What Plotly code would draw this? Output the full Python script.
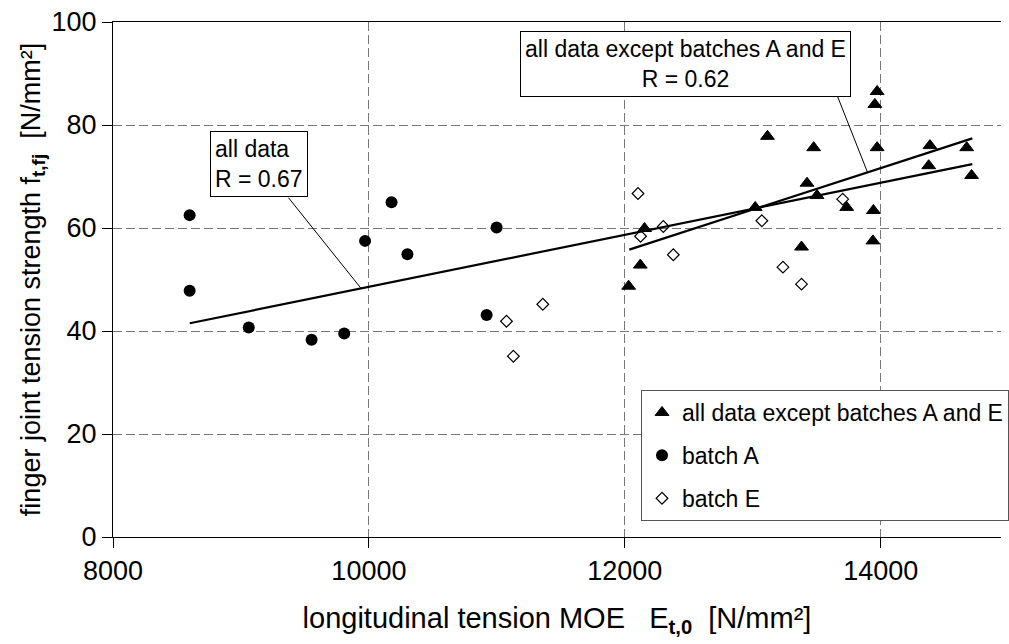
import numpy as np
import plotly.graph_objects as go

FONT = "Liberation Sans, Arial, sans-serif"

# ---- data ----
other_x = [12030, 12121, 12154, 13019, 13115, 13381, 13424, 13476, 13502, 13734,
           13939, 13943, 13954, 13972, 13972, 14375, 14385, 14672, 14710]
other_y = [48.7, 52.8, 59.9, 64.0, 77.8, 56.3, 68.7, 75.6, 66.3, 64.0,
           57.5, 63.4, 84.0, 86.5, 75.6, 72.1, 76.0, 75.6, 70.2]

batchA_x = [8599, 8599, 9061, 9552, 9807, 9970, 10177, 10301, 10920, 10998]
batchA_y = [62.5, 47.8, 40.7, 38.3, 39.5, 57.5, 65.0, 54.9, 43.1, 60.1]

batchE_x = [11075, 11129, 11359, 12103, 12123, 12301, 12379, 13071, 13236, 13381, 13703]
batchE_y = [41.9, 35.1, 45.2, 66.7, 58.4, 60.3, 54.8, 61.4, 52.4, 49.1, 65.6]

# trend lines (end points)
trend_all_x = [8600, 14716]
trend_all_y = [41.5, 72.4]
trend_other_x = [12035, 14716]
trend_other_y = [55.8, 77.4]

x_ticks = [8000, 10000, 12000, 14000]
y_ticks = [0, 20, 40, 60, 80, 100]


def on_line(xs, ys, xv):
    return ys[0] + (ys[1] - ys[0]) * (xv - xs[0]) / (xs[1] - xs[0])


fig = go.Figure()

fig.add_trace(go.Scatter(x=trend_all_x, y=trend_all_y, mode="lines",
                         line=dict(color="black", width=2.2), showlegend=False,
                         hoverinfo="skip"))
fig.add_trace(go.Scatter(x=trend_other_x, y=trend_other_y, mode="lines",
                         line=dict(color="black", width=2.2), showlegend=False,
                         hoverinfo="skip"))

fig.add_trace(go.Scatter(x=other_x, y=other_y, mode="markers",
                         name="all data except batches A and E", legendgroup="a",
                         marker=dict(symbol="triangle-up", size=12, color="black",
                                     line=dict(width=1, color="black"))))
fig.add_trace(go.Scatter(x=batchA_x, y=batchA_y, mode="markers",
                         name="batch A", legendgroup="b",
                         marker=dict(symbol="circle", size=12, color="black")))
fig.add_trace(go.Scatter(x=batchE_x, y=batchE_y, mode="markers",
                         name="batch E", legendgroup="c",
                         marker=dict(symbol="diamond-open", size=9, color="black",
                                     line=dict(width=1.2, color="black"))))

# leader lines from label boxes to the regression lines
lead1_from = (9371, 65.9)
lead1_to_x = 9939
lead2_from = (13657, 85.9)
lead2_to_x = 13897
fig.add_shape(type="line", x0=lead1_from[0], y0=lead1_from[1],
              x1=lead1_to_x, y1=on_line(trend_all_x, trend_all_y, lead1_to_x),
              line=dict(color="black", width=1))
fig.add_shape(type="line", x0=lead2_from[0], y0=lead2_from[1],
              x1=lead2_to_x, y1=on_line(trend_other_x, trend_other_y, lead2_to_x),
              line=dict(color="black", width=1))

fig.add_annotation(x=9138, y=72.4, xref="x", yref="y", showarrow=False,
                   text="all data<br>R = 0.67", align="left",
                   font=dict(family=FONT, size=23, color="black"),
                   bgcolor="white", bordercolor="black", borderwidth=1, borderpad=4)
fig.add_annotation(x=12473, y=91.9, xref="x", yref="y", showarrow=False,
                   text="all data except batches A and E<br>R = 0.62", align="center",
                   font=dict(family=FONT, size=23, color="black"),
                   bgcolor="white", bordercolor="black", borderwidth=1, borderpad=4)

grid = dict(showgrid=True, gridcolor="#777777", gridwidth=1, griddash="9px,4px")

fig.update_layout(
    width=1009, height=644,
    margin=dict(l=113, r=0, t=22, b=107),
    paper_bgcolor="white", plot_bgcolor="white",
    font=dict(family=FONT, color="black"),
    showlegend=True,
    legend=dict(x=(646 - 113) / 896, y=(537 - 390) / 515, xanchor="left", yanchor="top",
                bgcolor="white", bordercolor="#555555", borderwidth=1,
                font=dict(family=FONT, size=23, color="black"),
                tracegroupgap=10, traceorder="grouped", itemsizing="trace"),
    xaxis=dict(range=[8000, 14940], tickvals=x_ticks, ticktext=[str(v) for v in x_ticks],
               showline=True, linecolor="black", linewidth=1, mirror=True,
               ticks="outside", ticklen=10, tickcolor="black",
               tickfont=dict(family=FONT, size=27, color="black"),
               zeroline=False,
               title=dict(text="longitudinal tension MOE\u00a0\u00a0\u00a0E<sub><b>t,0</b></sub>\u00a0\u00a0[N/mm²]",
                          font=dict(family=FONT, size=29, color="black"), standoff=22),
               **grid),
    yaxis=dict(range=[0, 100], tickvals=y_ticks,
               showline=True, linecolor="black", linewidth=1,
               ticks="outside", ticklen=10, tickcolor="black",
               tickfont=dict(family=FONT, size=27, color="black"),
               zeroline=False,
               title=dict(text="finger joint tension strength f<sub><b>t,fj</b></sub>\u00a0\u00a0[N/mm²]",
                          font=dict(family=FONT, size=27, color="black"), standoff=3),
               **grid),
)

fig.write_html("out.html")
